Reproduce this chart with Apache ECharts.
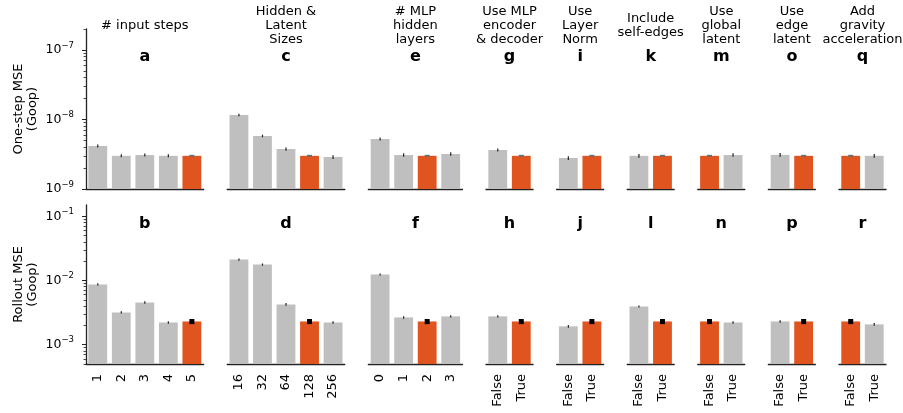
<!DOCTYPE html>
<html><head><meta charset="utf-8">
<script src="https://cdn.jsdelivr.net/npm/echarts@6/dist/echarts.min.js"></script>
<style>html,body{margin:0;padding:0;background:#fff}#c{width:903px;height:413px}</style>
</head><body><div id="c"></div>
<script>
// ---------------- DATA ----------------
const panelTitles = ['# input steps', 'Hidden &\nLatent\nSizes', '# MLP\nhidden\nlayers', 'Use MLP\nencoder\n& decoder', 'Use\nLayer\nNorm', 'Include\nself-edges', 'Use\nglobal\nlatent', 'Use\nedge\nlatent', 'Add\ngravity\nacceleration'];
const oneStepLetters = ['a', 'c', 'e', 'g', 'i', 'k', 'm', 'o', 'q'];
const rolloutLetters = ['b', 'd', 'f', 'h', 'j', 'l', 'n', 'p', 'r'];

const inputStepsCats = ['1', '2', '3', '4', '5'];
const latentSizeCats = ['16', '32', '64', '128', '256'];
const mlpLayerCats = ['0', '1', '2', '3'];
const boolCats = ['False', 'True'];
const panelCategories = [inputStepsCats, latentSizeCats, mlpLayerCats, boolCats, boolCats, boolCats, boolCats, boolCats, boolCats];
const baselineIndex = [4, 3, 2, 1, 1, 1, 0, 1, 0];

// One-step MSE (values, error half-widths)
const oneStepInputSteps = [4.15e-9, 3.0e-9, 3.08e-9, 3.0e-9, 3.0e-9];
const oneStepLatent     = [1.16e-8, 5.8e-9, 3.76e-9, 3.0e-9, 2.89e-9];
const oneStepMlp        = [5.24e-9, 3.08e-9, 3.0e-9, 3.19e-9];
const oneStepEncDec     = [3.64e-9, 3.0e-9];
const oneStepLayerNorm  = [2.79e-9, 3.0e-9];
const oneStepSelfEdges  = [3.0e-9, 3.0e-9];
const oneStepGlobal     = [3.0e-9, 3.08e-9];
const oneStepEdge       = [3.1e-9, 3.0e-9];
const oneStepGravity    = [3.0e-9, 3.0e-9];
const oneStepErrInputSteps = [0.2e-9, 0.15e-9, 0.15e-9, 0.15e-9, 0.04e-9];
const oneStepErrLatent     = [0.5e-9, 0.25e-9, 0.2e-9, 0.04e-9, 0.18e-9];
const oneStepErrMlp        = [0.25e-9, 0.18e-9, 0.04e-9, 0.18e-9];
const oneStepErrEncDec     = [0.18e-9, 0.04e-9];
const oneStepErrLayerNorm  = [0.18e-9, 0.04e-9];
const oneStepErrSelfEdges  = [0.18e-9, 0.04e-9];
const oneStepErrGlobal     = [0.04e-9, 0.18e-9];
const oneStepErrEdge       = [0.2e-9, 0.04e-9];
const oneStepErrGravity    = [0.04e-9, 0.18e-9];

// Rollout MSE (values, error half-widths)
const rolloutInputSteps = [8.67e-3, 3.18e-3, 4.55e-3, 2.22e-3, 2.3e-3];
const rolloutLatent     = [2.12e-2, 1.77e-2, 4.24e-3, 2.3e-3, 2.22e-3];
const rolloutMlp        = [1.24e-2, 2.66e-3, 2.3e-3, 2.76e-3];
const rolloutEncDec     = [2.76e-3, 2.3e-3];
const rolloutLayerNorm  = [1.93e-3, 2.3e-3];
const rolloutSelfEdges  = [3.94e-3, 2.3e-3];
const rolloutGlobal     = [2.3e-3, 2.22e-3];
const rolloutEdge       = [2.3e-3, 2.3e-3];
const rolloutGravity    = [2.3e-3, 2.07e-3];
const rolloutErrInputSteps = [0.35e-3, 0.13e-3, 0.2e-3, 0.1e-3, 0.21e-3];
const rolloutErrLatent     = [0.9e-3, 0.7e-3, 0.2e-3, 0.21e-3, 0.1e-3];
const rolloutErrMlp        = [0.45e-3, 0.12e-3, 0.21e-3, 0.12e-3];
const rolloutErrEncDec     = [0.12e-3, 0.21e-3];
const rolloutErrLayerNorm  = [0.09e-3, 0.21e-3];
const rolloutErrSelfEdges  = [0.15e-3, 0.21e-3];
const rolloutErrGlobal     = [0.21e-3, 0.1e-3];
const rolloutErrEdge       = [0.1e-3, 0.21e-3];
const rolloutErrGravity    = [0.21e-3, 0.1e-3];

const oneStepTickExponents = [-9, -8, -7];
const rolloutTickExponents = [-3, -2, -1];
const oneStepRange = [1e-9, 2e-7];
const rolloutRange = [5e-4, 0.15];

// ---------------- LAYOUT / STYLE ----------------
const FONT = 'DejaVu Sans';
const GRAY = '#bfbfbf', ORANGE = '#e0541f';
const LEFT = 86, RIGHT_END = 886, SLOT = (RIGHT_END - LEFT) / 34;
const panelStartSlot = [0, 6, 12, 17, 20, 23, 26, 29, 32];

const rows = [
  { top: 29, height: 160, range: oneStepRange, ticks: oneStepTickExponents,
    values: [oneStepInputSteps, oneStepLatent, oneStepMlp, oneStepEncDec, oneStepLayerNorm, oneStepSelfEdges, oneStepGlobal, oneStepEdge, oneStepGravity],
    errors: [oneStepErrInputSteps, oneStepErrLatent, oneStepErrMlp, oneStepErrEncDec, oneStepErrLayerNorm, oneStepErrSelfEdges, oneStepErrGlobal, oneStepErrEdge, oneStepErrGravity],
    letters: oneStepLetters, letterY: 57, name: 'One-step MSE\n(Goop)', markColor: '#6e6e6e', showLabels: false },
  { top: 205, height: 159, range: rolloutRange, ticks: rolloutTickExponents,
    values: [rolloutInputSteps, rolloutLatent, rolloutMlp, rolloutEncDec, rolloutLayerNorm, rolloutSelfEdges, rolloutGlobal, rolloutEdge, rolloutGravity],
    errors: [rolloutErrInputSteps, rolloutErrLatent, rolloutErrMlp, rolloutErrEncDec, rolloutErrLayerNorm, rolloutErrSelfEdges, rolloutErrGlobal, rolloutErrEdge, rolloutErrGravity],
    letters: rolloutLetters, letterY: 224, name: 'Rollout MSE\n(Goop)', markColor: '#000', showLabels: true }
];

function minorLogs(range) {
  const out = [];
  const lo = Math.floor(Math.log10(range[0])), hi = Math.ceil(Math.log10(range[1]));
  for (let e = lo; e <= hi; e++) for (let k = 2; k <= 9; k++) {
    const v = k * Math.pow(10, e);
    if (v >= range[0] && v <= range[1]) out.push(Math.log10(v));
  }
  return out;
}

function makeRender(row, baseIdx) {
  return function (params, api) {
    const i = api.value(0), v = api.value(1), e = api.value(2);
    const top = api.coord([i, v]);
    const bottom = api.coord([i, row.range[0]]);
    const band = api.size([1, 0], [i, v])[0];
    const bw = band * 0.8;
    const isBase = i === baseIdx;
    const hi = api.coord([i, v + e]), lo = api.coord([i, v - e]);
    const children = [{ type: 'rect', shape: { x: top[0] - bw / 2, y: top[1], width: bw, height: bottom[1] - top[1] }, style: { fill: isBase ? ORANGE : GRAY } }];
    if (isBase) {
      const h = Math.max(lo[1] - hi[1], 2);
      const cy = (lo[1] + hi[1]) / 2;
      children.push({ type: 'rect', shape: { x: top[0] - 2.5, y: cy - h / 2, width: 5, height: h }, style: { fill: row.markColor } });
    } else {
      children.push({ type: 'line', shape: { x1: top[0], y1: hi[1], x2: top[0], y2: lo[1] }, style: { stroke: '#222', lineWidth: 1.2 } });
    }
    return { type: 'group', children };
  };
}

const grids = [], xAxes = [], yAxes = [], series = [], graphics = [];
rows.forEach((row, r) => {
  panelCategories.forEach((cats, p) => {
    const gi = grids.length;
    const left = LEFT + panelStartSlot[p] * SLOT, width = cats.length * SLOT;
    grids.push({ left, top: row.top, width, height: row.height });
    xAxes.push({
      type: 'category', gridIndex: gi, data: cats,
      axisLine: { lineStyle: { color: '#222', width: 1.3 } },
      axisTick: { alignWithLabel: true, length: 4, lineStyle: { color: '#222', width: 1 } },
      axisLabel: { show: row.showLabels, rotate: 90, fontSize: 13, color: '#000', fontFamily: FONT, margin: 10 },
      splitLine: { show: false }
    });
    const yi = yAxes.length;
    yAxes.push({ type: 'log', logBase: 10, gridIndex: gi, min: row.range[0], max: row.range[1], show: false });
    if (p === 0) {
      const lmin = Math.log10(row.range[0]), lmax = Math.log10(row.range[1]);
      yAxes.push({
        type: 'value', gridIndex: gi, min: lmin, max: lmax, position: 'left',
        axisLine: { show: true, lineStyle: { color: '#222', width: 1.3 } },
        axisTick: { show: true, length: 4, customValues: row.ticks, lineStyle: { color: '#222', width: 1 } },
        axisLabel: {
          customValues: row.ticks, margin: 12, color: '#000', fontFamily: FONT,
          formatter: v => '{b|10}{s|' + String(Math.round(v)).replace('-', '−') + '}',
          rich: { b: { fontSize: 12.5, fontFamily: FONT, color: '#000' }, s: { fontSize: 8.5, fontFamily: FONT, color: '#000', padding: [0, 0, 9, 0] } }
        },
        splitLine: { show: false }
      });
      yAxes.push({
        type: 'value', gridIndex: gi, min: lmin, max: lmax, position: 'left',
        axisLine: { show: false },
        axisTick: { show: true, length: 2.5, customValues: minorLogs(row.range), lineStyle: { color: '#222', width: 0.8 } },
        axisLabel: { show: false },
        splitLine: { show: false }
      });
    }
    const vals = row.values[p], errs = row.errors[p];
    series.push({
      type: 'custom', xAxisIndex: gi, yAxisIndex: yi,
      data: vals.map((v, i) => [i, v, errs[i]]),
      encode: { x: 0, y: 1 },
      renderItem: makeRender(row, baselineIndex[p]),
      silent: true
    });
    const cx = LEFT + (panelStartSlot[p] + cats.length / 2) * SLOT;
    graphics.push({ type: 'text', x: cx, y: row.letterY, style: { text: row.letters[p], font: 'bold 16px "' + FONT + '"', fill: '#000', textAlign: 'center', textVerticalAlign: 'middle', align: 'center', verticalAlign: 'middle' } });
    if (r === 0) {
      graphics.push({ type: 'text', x: cx, y: 25.5, style: { text: panelTitles[p], font: '13px "' + FONT + '"', lineHeight: 14, fill: '#000', textAlign: 'center', textVerticalAlign: 'middle', align: 'center', verticalAlign: 'middle' } });
    }
  });
  graphics.push({ type: 'text', x: 25.5, y: row.top + row.height / 2, rotation: Math.PI / 2, style: { text: row.name, font: '13px "' + FONT + '"', lineHeight: 14, fill: '#000', textAlign: 'center', textVerticalAlign: 'middle', align: 'center', verticalAlign: 'middle' } });
});

const chart = echarts.init(document.getElementById('c'), null, { renderer: 'canvas' });
chart.setOption({
  animation: false,
  backgroundColor: '#fff',
  textStyle: { fontFamily: FONT },
  grid: grids, xAxis: xAxes, yAxis: yAxes, series, graphic: graphics
});
</script></body></html>
